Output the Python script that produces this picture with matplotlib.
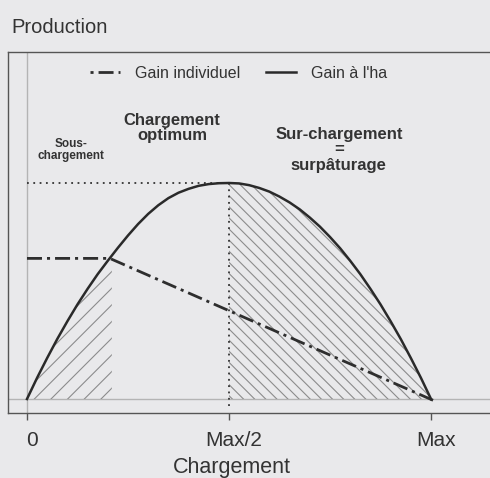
"""
production par ha et gain individuel selon le chargement
"""

import matplotlib.pyplot as plt
import matplotlib.transforms as mtransforms
from matplotlib.lines import Line2D

# courbe production a l'ha
charge = [0, 0.025, 0.05, 0.075, 0.1, 0.125, 0.15, 0.175, 0.2, 0.225,
          0.25, 0.275, 0.3, 0.325, 0.35, 0.375, 0.4, 0.425, 0.45, 0.475,
          0.5, 0.525, 0.55, 0.575, 0.6, 0.625, 0.65, 0.675, 0.7, 0.725,
          0.75, 0.775, 0.8, 0.825, 0.85, 0.875, 0.9, 0.925, 0.95, 0.975, 1.0]
gain_ha = [0, 0.098, 0.19, 0.278, 0.36, 0.438, 0.51, 0.578, 0.64, 0.70,
           0.757, 0.81, 0.857, 0.897, 0.93, 0.955, 0.973, 0.987, 0.995, 0.999,
           1.0, 0.998, 0.99, 0.977, 0.96, 0.937, 0.91, 0.878, 0.84, 0.798,
           0.75, 0.698, 0.64, 0.578, 0.51, 0.438, 0.36, 0.278, 0.19, 0.098, 0]

# gain individuel
charge_ind = [0, 0.205, 1.01]
gain_ind = [0.651, 0.651, -0.01]

# zones hachurees
sous_x = [0, 0.05, 0.1, 0.15, 0.2, 0.21]
sous_y = [0, 0.19, 0.36, 0.51, 0.64, 0.66]
sur_x = charge[20:]
sur_y = gain_ha[20:]

optimum = 0.5
tick_pos = [0, 0.5, 1]
tick_labels = ["0", "Max/2", "Max"]

BG = "#e9e9eb"
TXT = "#333333"

plt.rcParams["font.family"] = ["Liberation Sans", "DejaVu Sans"]
plt.rcParams["hatch.color"] = "#8c8c8c"
plt.rcParams["hatch.linewidth"] = 0.8

fig = plt.figure(figsize=(4.9, 4.78), dpi=100, facecolor=BG)
ax = fig.add_axes([8 / 490, 65 / 478, 0.9952, 361 / 478], facecolor=BG)
ax.set_xlim(-0.047, 1.16)
ax.set_ylim(-0.0648, 1.6065)

# reperes gris
ax.axvline(0, color="#b4b4b4", lw=1, zorder=1)
ax.axhline(0, color="#b4b4b4", lw=1, zorder=1)

# hachures
ax.fill_between(sous_x, 0, sous_y, facecolor="none", edgecolor="#8c8c8c",
                linewidth=0, hatch="//", zorder=2)
ax.fill_between(sur_x, 0, sur_y, facecolor="none", edgecolor="#8c8c8c",
                linewidth=0, hatch="\\\\\\", zorder=2)

# pointilles de l'optimum
ax.plot([0, optimum], [1, 1], color=TXT, lw=1.3, ls=(0, (1, 2.5)), zorder=3)
ax.plot([optimum, optimum], [1, -0.035], color=TXT, lw=1.3, ls=(0, (1, 2.5)),
        zorder=3, clip_on=False)

dashdot = (0, (5.4, 1.8, 1.1, 1.8))
ax.plot(charge_ind, gain_ind, color="#2e2e2e", lw=2.0, ls=dashdot, zorder=4)
ax.plot(charge, gain_ha, color="#2a2a2a", lw=1.8, zorder=5,
        solid_joinstyle="round")

# annotations
ax.text(0.109, 1.153, "Sous-\nchargement", ha="center", va="center",
        fontsize=8.5, fontweight="bold", color=TXT, linespacing=1.0)
ax.text(0.359, 1.255, "Chargement\noptimum", ha="center", va="center",
        fontsize=12, fontweight="bold", color=TXT, linespacing=1.05)
ax.text(0.772, 1.153, "Sur-chargement\n=\nsurpâturage", ha="center",
        va="center", fontsize=12, fontweight="bold", color=TXT,
        linespacing=1.05)

# legende
handles = [
    Line2D([], [], color="#2e2e2e", lw=2.0, ls=(7.2, (5.4, 1.8, 1.1, 1.8))),
    Line2D([], [], color="#2a2a2a", lw=1.8),
]
ax.legend(handles, ["Gain individuel", "Gain à l'ha"], ncol=2, frameon=False,
          loc="center", bbox_to_anchor=(238.5 / 490, 1 - 73 / 478),
          bbox_transform=fig.transFigure, fontsize=11.5, handlelength=1.9,
          handletextpad=0.94, columnspacing=1.56, labelcolor=TXT)

# axes
for side in ["left", "top", "bottom", "right"]:
    ax.spines[side].set_color("#555555")
    ax.spines[side].set_linewidth(1.0)
ax.set_yticks([])
ax.set_xticks(tick_pos)
ax.set_xticklabels(tick_labels, fontsize=15, color=TXT)
ax.tick_params(axis="x", direction="out", length=5, width=1, color="#555555",
               pad=8)
shift = mtransforms.ScaledTranslation(0.05, 0, fig.dpi_scale_trans)
for lab in ax.get_xticklabels():
    lab.set_transform(lab.get_transform() + shift)

fig.text(11 / 490, 1 - 32.7 / 478, "Production", ha="left", va="baseline",
         fontsize=14.5, color=TXT)
fig.text(231.7 / 490, 5 / 478, "Chargement", ha="center", va="baseline",
         fontsize=15.5, color=TXT)

fig.savefig("out.png", dpi=100, facecolor=BG)
